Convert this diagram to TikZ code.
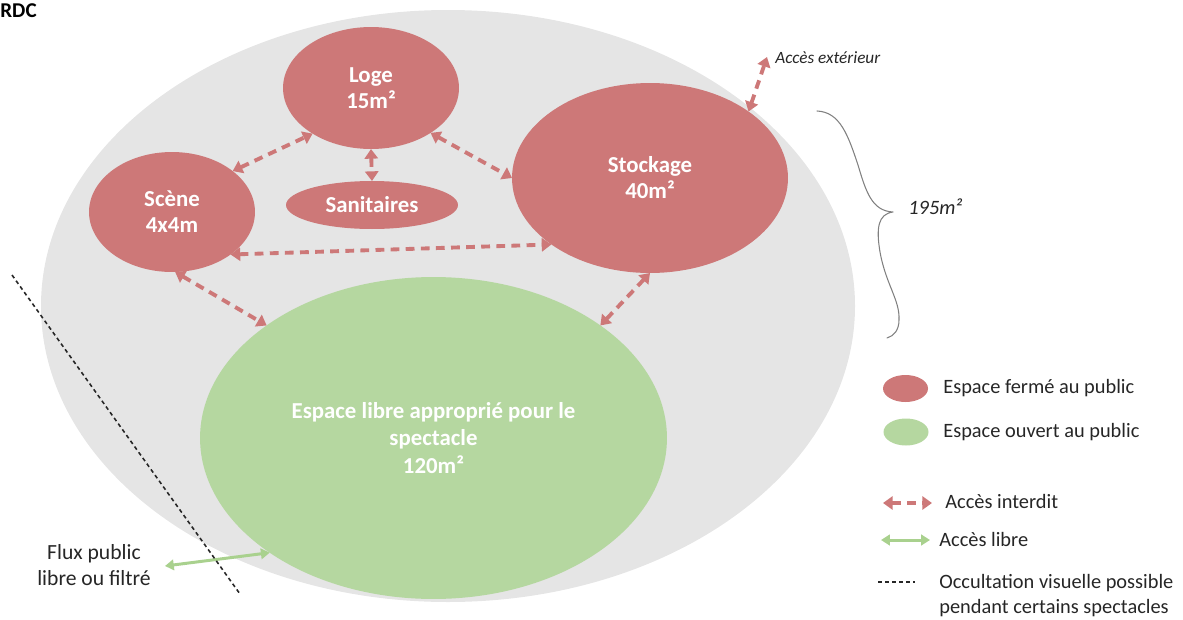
\documentclass[tikz,border=0pt]{standalone}
\usepackage{fontspec}
\setmainfont{Carlito}
\usetikzlibrary{shapes.geometric,arrows.meta}
\definecolor{roomred}{RGB}{205,120,120}
\definecolor{hallgreen}{RGB}{181,215,160}
\definecolor{arrowgreen}{RGB}{169,209,142}
\definecolor{zonegrey}{RGB}{229,229,229}
\definecolor{bracegrey}{RGB}{128,128,128}
\definecolor{inkgrey}{RGB}{38,38,38}

\begin{document}
\begin{tikzpicture}[x=0.02cm,y=-0.02cm,line cap=round,line join=round]
  \tikzset{
    room/.style={ellipse,fill=roomred,inner sep=0pt,outer sep=0pt,text=white,align=center,
      font=\bfseries\fontsize{13}{14.8}\selectfont},
    hall/.style={room,fill=hallgreen,font=\bfseries\fontsize{13}{15.6}\selectfont},
    key/.style={inner sep=0pt,text=inkgrey,font=\fontsize{11.6}{14.2}\selectfont},
    interdit/.style={draw=roomred,line width=2.2pt,line cap=butt,dash pattern=on 5pt off 3.6pt,
      >={Triangle[length=5.5pt,width=7.5pt]},<->},
    libre/.style={draw=arrowgreen,line width=1.7pt,>={Triangle[length=5pt,width=6pt]},<->},
    occult/.style={draw=inkgrey,line width=0.9pt,line cap=butt,dash pattern=on 2.2pt off 1.8pt},
  }
  \useasboundingbox (0,0) rectangle (1183,619);
  % ground floor area
  \fill[zonegrey] (448,306) ellipse [x radius=407,y radius=296];
  \node[anchor=base west,inner sep=0pt,font=\bfseries\fontsize{12}{14}\selectfont] (rdc) at (0,17) {RDC};

  % rooms
  \node[room,minimum width=3.52cm,minimum height=2.44cm] (loge) at (371,88) {Loge\\15m²};
  \node[room,minimum width=3.32cm,minimum height=2.4cm] (scene) at (172,212) {Scène\\4x4m};
  \node[room,minimum width=3.44cm,minimum height=0.96cm] (sanit) at (372,205) {Sanitaires};
  \node[room,minimum width=5.52cm,minimum height=3.8cm] (stock) at (650,178) {Stockage\\40m²};
  \node[hall,minimum width=9.34cm,minimum height=6.44cm] (hall) at (433.5,438)
    {Espace libre approprié pour le\\spectacle\\120m²};

  % closed accesses
  \draw[interdit] (scene.34) -- (loge.218);
  \draw[interdit] (loge.323) -- (stock.180);
  \draw[interdit] (loge.south) -- (sanit.north);
  \draw[interdit] (scene.324) -- (stock.214);
  \draw[interdit] (scene.273) -- (hall.146);
  \draw[interdit] (stock.270) -- (hall.34);
  \coordinate (dehors) at (767,57);
  \draw[interdit] (stock.34) -- (dehors);
  \node[anchor=base west,inner sep=0pt,text=inkgrey,font=\itshape\fontsize{9.8}{12}\selectfont]
    (ext) at (775,63) {Accès extérieur};

  % public flow
  \node[key,align=center,font=\fontsize{12.3}{14.7}\selectfont] (flux) at (94,565) {Flux public\\libre ou filtré};
  \coordinate (fluxpt) at (165,566);
  \draw[libre] (fluxpt) -- (hall.215);
  \coordinate (occhaut) at (12,275);
  \coordinate (occbas) at (240,594);
  \draw[occult] (occhaut) -- (occbas);

  % total area brace
  \draw[bracegrey,line width=0.6pt] (817,111) .. controls (840,112) and (848,135) .. (858,165)
    .. controls (866,192) and (872,211) .. (893,212)
    .. controls (878,214) and (876,228) .. (880,252)
    .. controls (886,285) and (900,300) .. (899,320)
    .. controls (899,330) and (894,336) .. (887,338);
  \node[anchor=base west,inner sep=0pt,text=inkgrey,font=\itshape\fontsize{11.6}{14}\selectfont]
    (surface) at (908,214) {195m²};

  % legend
  \node[room,minimum width=0.9cm,minimum height=0.54cm] (kferme) at (905.5,388.5) {};
  \node[key,anchor=base west] (tferme) at (943,393) {Espace fermé au public};
  \node[hall,minimum width=0.9cm,minimum height=0.54cm] (kouvert) at (906,432) {};
  \node[key,anchor=base west] (touvert) at (943,437) {Espace ouvert au public};
  \coordinate (ki1) at (883,503);
  \coordinate (ki2) at (932,503);
  \draw[interdit] (ki1) -- (ki2);
  \node[key,anchor=base west] (tinterdit) at (945,508) {Accès interdit};
  \coordinate (kl1) at (881,540);
  \coordinate (kl2) at (930,540);
  \draw[libre] (kl1) -- (kl2);
  \node[key,anchor=base west] (tlibre) at (939,546) {Accès libre};
  \coordinate (ko1) at (878,582);
  \coordinate (ko2) at (915,582);
  \draw[occult] (ko1) -- (ko2);
  \node[key,anchor=north west,align=left] (tocc) at (939,574)
    {Occultation visuelle possible\\pendant certains spectacles};
\end{tikzpicture}
\end{document}
